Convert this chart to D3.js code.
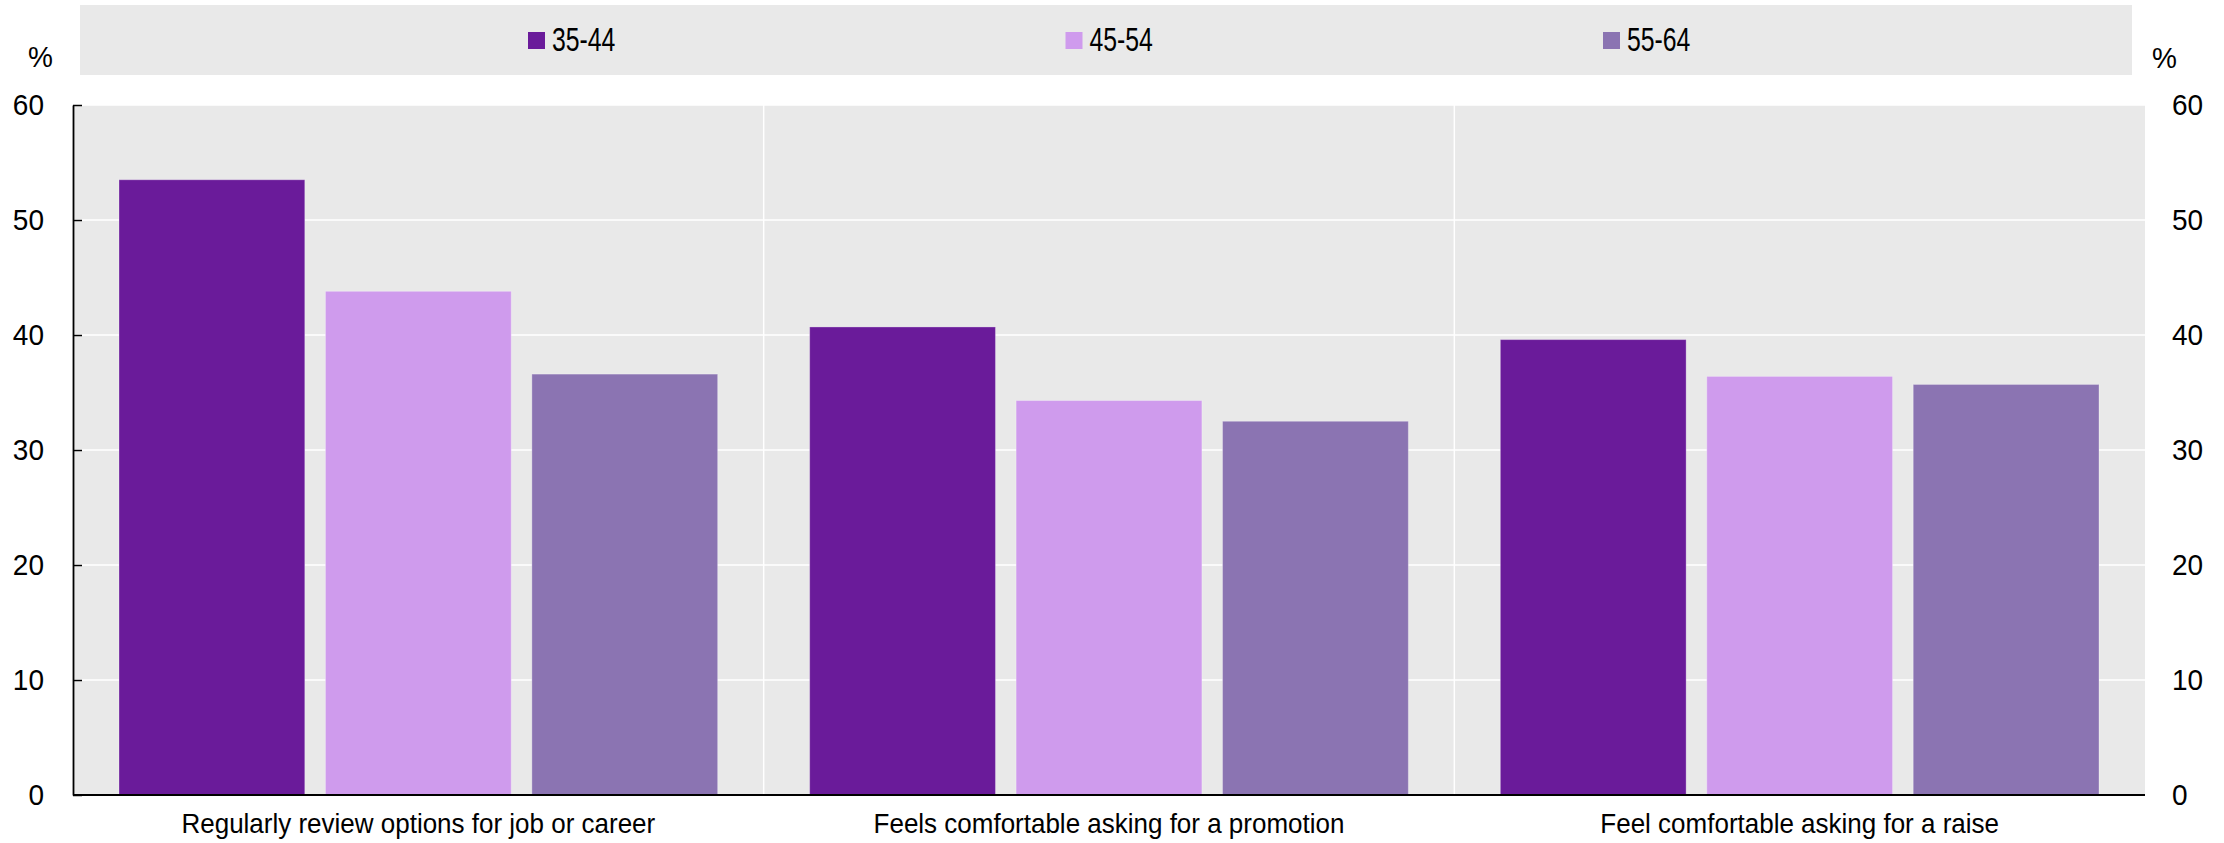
<!DOCTYPE html>
<html>
<head>
<meta charset="utf-8">
<script src="https://cdn.jsdelivr.net/npm/d3@7"></script>
<style>
  html, body { margin: 0; padding: 0; background: #ffffff; }
  svg { display: block; font-family: "Liberation Sans", Arial, sans-serif; }
</style>
</head>
<body>
<svg id="chart" width="2224" height="843"></svg>
<script>
// ---- Data ----
const categories = [
  "Regularly review options for job or career",
  "Feels comfortable asking for a promotion",
  "Feel comfortable asking for a raise"
];
const seriesNames = ["35-44", "45-54", "55-64"];
const values35to44 = [53.5, 40.7, 39.6];
const values45to54 = [43.8, 34.3, 36.4];
const values55to64 = [36.6, 32.5, 35.7];
const tickValues = [0, 10, 20, 30, 40, 50, 60];
const unitLabel = "%";

// ---- Styles ----
const colors = ["#6a1b9a", "#cf9bed", "#8b74b2"];
const seriesValues = [values35to44, values45to54, values55to64];

const svg = d3.select("#chart");
const W = 2224, H = 843;
const plot = { left: 73, right: 2145, top: 105, bottom: 795 };

const x0 = d3.scaleBand().domain(categories).range([plot.left, plot.right]).padding(0);
const bw = x0.bandwidth();
const x1 = d3.scaleBand().domain(seriesNames).range([46, bw - 46]).paddingInner(0.1);
const y = d3.scaleLinear().domain([0, 60]).range([plot.bottom, plot.top]);
const color = d3.scaleOrdinal().domain(seriesNames).range(colors);

// Legend background
svg.append("rect")
  .attr("x", 80).attr("y", 5).attr("width", 2052).attr("height", 70)
  .attr("fill", "#e9e9e9");

const legendX = d3.scalePoint().domain(seriesNames).range([528, 1603]);
const lg = svg.append("g").selectAll("g").data(seriesNames).join("g")
  .attr("transform", d => `translate(${legendX(d)},0)`);
lg.append("rect").attr("x", 0).attr("y", 32).attr("width", 17).attr("height", 17)
  .attr("fill", d => color(d));
lg.append("text")
  .attr("transform", "translate(24,51) scale(0.8,1.08)")
  .attr("font-size", 31).attr("fill", "#000")
  .text(d => d);

// Plot background
svg.append("rect")
  .attr("x", plot.left).attr("y", plot.top)
  .attr("width", plot.right - plot.left).attr("height", plot.bottom - plot.top)
  .attr("fill", "#e9e9e9");

// Horizontal gridlines
svg.append("g").selectAll("line").data(tickValues).join("line")
  .attr("x1", plot.left).attr("x2", plot.right)
  .attr("y1", d => y(d)).attr("y2", d => y(d))
  .attr("stroke", "#ffffff").attr("stroke-width", 1.5);

// Vertical category separators
svg.append("g").selectAll("line").data(categories.slice(1)).join("line")
  .attr("x1", d => x0(d)).attr("x2", d => x0(d))
  .attr("y1", plot.top).attr("y2", plot.bottom)
  .attr("stroke", "#ffffff").attr("stroke-width", 1.5);

// Bars
const groups = svg.append("g").selectAll("g").data(categories).join("g")
  .attr("transform", d => `translate(${x0(d)},0)`);
groups.selectAll("rect")
  .data((d, i) => seriesNames.map((s, j) => ({ s, v: seriesValues[j][i] })))
  .join("rect")
  .attr("x", d => x1(d.s))
  .attr("y", d => y(d.v))
  .attr("width", x1.bandwidth())
  .attr("height", d => y(0) - y(d.v))
  .attr("fill", d => color(d.s))
  .attr("stroke", "rgba(255,255,255,0.3)")
  .attr("stroke-width", 1);

// Left axis
const leftAxis = svg.append("g")
  .attr("transform", `translate(${plot.left},0)`)
  .call(d3.axisLeft(y).tickValues(tickValues).tickSize(-9).tickSizeOuter(0).tickPadding(29));
leftAxis.select(".domain").attr("stroke", "#000").attr("stroke-width", 1.8);
leftAxis.selectAll(".tick line").attr("stroke", "#000").attr("stroke-width", 1.5);
leftAxis.selectAll(".tick text")
  .attr("font-size", 28).attr("fill", "#000")
  .attr("font-family", "\"Liberation Sans\", Arial, sans-serif")
  .attr("transform", "scale(1,1.08)");

// Right axis
const rightAxis = svg.append("g")
  .attr("transform", `translate(${plot.right},0)`)
  .call(d3.axisRight(y).tickValues(tickValues).tickSize(0).tickPadding(27));
rightAxis.select(".domain").remove();
rightAxis.selectAll(".tick text")
  .attr("font-size", 28).attr("fill", "#000")
  .attr("font-family", "\"Liberation Sans\", Arial, sans-serif")
  .attr("transform", "scale(1,1.08)");

// Baseline
svg.append("line")
  .attr("x1", plot.left).attr("x2", plot.right)
  .attr("y1", y(0)).attr("y2", y(0))
  .attr("stroke", "#000").attr("stroke-width", 2);

// Unit labels
svg.append("text").attr("transform", "translate(28,67) scale(1,1.08)")
  .attr("font-size", 28).attr("fill", "#000").text(unitLabel);
svg.append("text").attr("transform", "translate(2152,68) scale(1,1.08)")
  .attr("font-size", 28).attr("fill", "#000").text(unitLabel);

// Category labels
svg.append("g").selectAll("text").data(categories).join("text")
  .attr("transform", d => `translate(${x0(d) + bw / 2},833) scale(1,1.08)`)
  .attr("text-anchor", "middle")
  .attr("font-size", 26).attr("fill", "#000")
  .text(d => d);
</script>
</body>
</html>
